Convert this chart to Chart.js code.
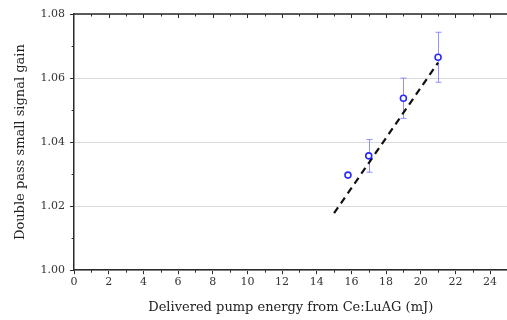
<!DOCTYPE html>
<html>
<head>
<meta charset="utf-8">
<script src="https://cdn.jsdelivr.net/npm/chart.js@4/dist/chart.umd.min.js"></script>
<style>
  html, body { margin: 0; padding: 0; background: #fff; overflow: hidden; }
  #wrap { width: 513px; height: 320px; position: relative; }
</style>
</head>
<body>
<div id="wrap"><canvas id="myChart"></canvas></div>
<script>
"use strict";

// Data
const energy = [15.8, 17.0, 19.0, 21.0];
const gain = [1.0297, 1.0357, 1.0537, 1.0665];
const gainErr = [0, 0.0051, 0.0063, 0.0078];

// Dashed fit line end points
const fitX = [15.0, 21.0];
const fitY = [1.0178, 1.0648];

const xTicks = [0, 2, 4, 6, 8, 10, 12, 14, 16, 18, 20, 22, 24];
const yTicks = [1.0, 1.02, 1.04, 1.06, 1.08];

const serif = "'DejaVu Serif', serif";
const axisColor = "#2a2a2a";

// error bars + top axis + minor ticks
const extras = {
  id: "extras",
  beforeDatasetsDraw(chart) {
    const ctx = chart.ctx;
    const xs = chart.scales.x;
    const ys = chart.scales.y;
    ctx.save();
    ctx.strokeStyle = "rgba(110,110,255,0.75)";
    ctx.lineWidth = 1;
    energy.forEach((e, i) => {
      if (!gainErr[i]) return;
      const px = Math.round(xs.getPixelForValue(e)) + 0.5;
      const top = ys.getPixelForValue(gain[i] + gainErr[i]);
      const bot = ys.getPixelForValue(gain[i] - gainErr[i]);
      ctx.beginPath();
      ctx.moveTo(px, top);
      ctx.lineTo(px, bot);
      ctx.moveTo(px - 3, top);
      ctx.lineTo(px + 3, top);
      ctx.moveTo(px - 3, bot);
      ctx.lineTo(px + 3, bot);
      ctx.stroke();
    });
    ctx.restore();
  },
  afterDraw(chart) {
    const ctx = chart.ctx;
    const area = chart.chartArea;
    const xs = chart.scales.x;
    const ys = chart.scales.y;
    ctx.save();
    ctx.strokeStyle = axisColor;
    ctx.lineWidth = 1.5;
    ctx.beginPath();
    ctx.moveTo(area.left, area.top);
    ctx.lineTo(area.right, area.top);
    ctx.stroke();
    ctx.lineWidth = 1;
    ctx.beginPath();
    for (let v = 1; v <= 24; v++) {
      const px = Math.round(xs.getPixelForValue(v)) + 0.5;
      const len = v % 2 === 0 ? 4 : 2.5;
      ctx.moveTo(px, area.top);
      ctx.lineTo(px, area.top + len);
      if (v % 2 === 1) {
        ctx.moveTo(px, area.bottom);
        ctx.lineTo(px, area.bottom + 2.5);
      }
    }
    for (let k = 1; k < 8; k += 2) {
      const py = Math.round(ys.getPixelForValue(1 + k * 0.01)) + 0.5;
      ctx.moveTo(area.left, py);
      ctx.lineTo(area.left - 2.5, py);
    }
    ctx.stroke();
    ctx.restore();
  }
};

new Chart("myChart", {
  type: "scatter",
  data: {
    datasets: [
      {
        label: "Gain",
        data: energy.map((e, i) => ({ x: e, y: gain[i] })),
        pointStyle: "circle",
        pointRadius: 3,
        pointBorderWidth: 1.6,
        pointBorderColor: "#2a2aff",
        pointBackgroundColor: "#fff",
        showLine: false,
        order: 1
      },
      {
        label: "Fit",
        type: "line",
        data: fitX.map((e, i) => ({ x: e, y: fitY[i] })),
        borderColor: "#111",
        borderWidth: 2.2,
        borderDash: [7, 5],
        pointRadius: 0,
        fill: false,
        order: 2
      }
    ]
  },
  options: {
    responsive: true,
    maintainAspectRatio: false,
    animation: false,
    layout: { padding: { top: 14, right: 0, left: 13, bottom: 5 } },
    plugins: {
      legend: { display: false },
      tooltip: { enabled: false }
    },
    scales: {
      x: {
        type: "linear",
        min: 0,
        max: 25,
        afterBuildTicks: (s) => {
          s.ticks = xTicks.map((v) => ({ value: v }));
        },
        border: { color: axisColor, width: 1.5 },
        grid: {
          drawOnChartArea: false,
          drawTicks: true,
          tickLength: 4,
          tickColor: axisColor
        },
        ticks: {
          color: "#333",
          padding: 1,
          font: { family: serif, size: 11 },
          callback: (v) => String(v)
        },
        title: {
          display: true,
          text: "Delivered pump energy from Ce:LuAG (mJ)",
          color: "#222",
          font: { family: serif, size: 13 },
          padding: { top: 10, bottom: 0 }
        }
      },
      y: {
        type: "linear",
        min: 1.0,
        max: 1.08,
        afterBuildTicks: (s) => {
          s.ticks = yTicks.map((v) => ({ value: v }));
        },
        border: { color: axisColor, width: 1.5 },
        grid: {
          color: "#d9d9d9",
          lineWidth: 1,
          drawTicks: true,
          tickLength: 4,
          tickColor: axisColor
        },
        ticks: {
          color: "#333",
          padding: 5,
          font: { family: serif, size: 11 },
          callback: (v) => v.toFixed(2)
        },
        title: {
          display: true,
          text: "Double pass small signal gain",
          color: "#222",
          font: { family: serif, size: 13 },
          padding: { top: 0, bottom: 7 }
        }
      }
    }
  },
  plugins: [extras]
});
</script>
</body>
</html>
